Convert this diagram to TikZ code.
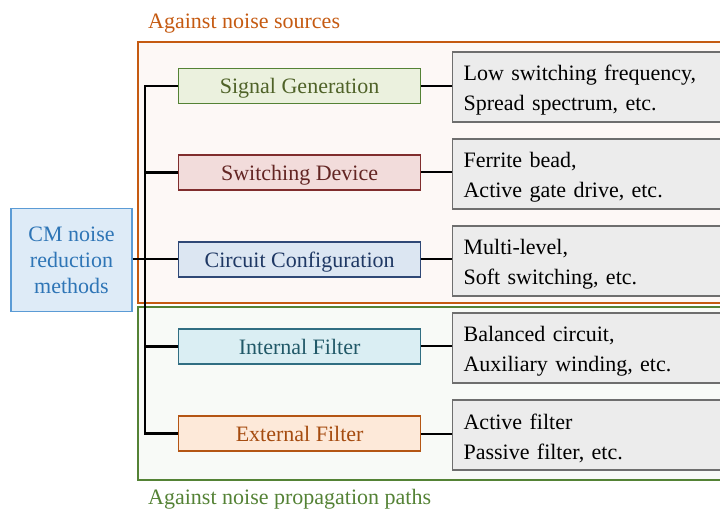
\documentclass[tikz,border=0pt]{standalone}
\usepackage{fontspec}
\setmainfont{Liberation Serif}
\definecolor{oframe}{RGB}{197,90,17}
\definecolor{ofill}{RGB}{253,248,246}
\definecolor{gframe}{RGB}{84,130,53}
\definecolor{gfill}{RGB}{248,250,247}
\definecolor{cmfill}{RGB}{222,235,247}
\definecolor{cmdraw}{RGB}{91,155,213}
\definecolor{cmtext}{RGB}{46,117,182}
\definecolor{sgfill}{RGB}{235,241,222}
\definecolor{sgdraw}{RGB}{84,130,53}
\definecolor{sgtext}{RGB}{79,98,40}
\definecolor{sdfill}{RGB}{242,220,219}
\definecolor{sddraw}{RGB}{128,45,45}
\definecolor{sdtext}{RGB}{99,37,35}
\definecolor{ccfill}{RGB}{220,230,242}
\definecolor{ccdraw}{RGB}{47,72,118}
\definecolor{cctext}{RGB}{31,56,100}
\definecolor{iffill}{RGB}{218,238,243}
\definecolor{ifdraw}{RGB}{49,110,130}
\definecolor{iftext}{RGB}{33,89,104}
\definecolor{effill}{RGB}{253,233,217}
\definecolor{efdraw}{RGB}{180,85,20}
\definecolor{eftext}{RGB}{165,75,15}
\definecolor{dfill}{RGB}{236,236,236}
\definecolor{ddraw}{RGB}{110,110,110}
\begin{document}
\begin{tikzpicture}[x=1pt,y=-1pt,
  font=\fontsize{22}{30}\selectfont,
  cat/.style={draw,line width=1.2pt,minimum width=242pt,minimum height=35pt,inner sep=0pt,text depth=0pt,anchor=west},
  det/.style={draw=ddraw,fill=dfill,line width=1.2pt,minimum width=268pt,minimum height=70pt,inner sep=0pt,anchor=west},
  dettext/.style={text width=246pt,align=left,inner sep=0pt,yshift=-3pt},
  trunk/.style={line width=2.5pt,black},
  conn/.style={line width=2pt,black}]
\useasboundingbox (0,0) rectangle (720,510);
\begin{scope}
\clip (0,0) rectangle (720,510);
\draw[oframe,fill=ofill,line width=1.5pt] (138,42) rectangle (724,303);
\draw[gframe,fill=gfill,line width=1.5pt] (138,307) rectangle (724,480);
\end{scope}
\node[text=oframe,anchor=west,inner sep=0pt] (lab1) at (148,23.5) {Against noise sources};
\node[text=gframe,anchor=west,inner sep=0pt] (lab2) at (148,499.5) {Against noise propagation paths};

\node[draw=cmdraw,fill=cmfill,text=cmtext,line width=1.2pt,minimum width=121pt,minimum height=103pt,inner sep=0pt,align=center,font=\fontsize{22}{26}\selectfont] (cm) at (71.5,260) {CM noise\\reduction\\methods};

\node[cat,draw=sgdraw,fill=sgfill,text=sgtext] (sg) at (178,86) {Signal Generation};
\node[cat,draw=sddraw,fill=sdfill,text=sdtext] (sd) at (178,172.5) {Switching Device};
\node[cat,draw=ccdraw,fill=ccfill,text=cctext] (cc) at (178,259.5) {Circuit Configuration};
\node[cat,draw=ifdraw,fill=iffill,text=iftext] (if) at (178,346.5) {Internal Filter};
\node[cat,draw=efdraw,fill=effill,text=eftext] (ef) at (178,433.5) {External Filter};

\node[det] (d1) at (452,87) {};
\node[det] (d2) at (452,174) {};
\node[det] (d3) at (452,261) {};
\node[det] (d4) at (452,348) {};
\node[det] (d5) at (452,435) {};
\node[dettext] (t1) at (d1.center) {Low switching frequency,\\Spread spectrum, etc.};
\node[dettext] (t2) at (d2.center) {Ferrite bead,\\Active gate drive, etc.};
\node[dettext] (t3) at (d3.center) {Multi-level,\\Soft switching, etc.};
\node[dettext] (t4) at (d4.center) {Balanced circuit,\\Auxiliary winding, etc.};
\node[dettext] (t5) at (d5.center) {Active filter\\Passive filter, etc.};

\coordinate (ttop) at (145,86);
\coordinate (tbot) at (145,433.5);
\draw[trunk] (sg.west) -- (ttop) -- (tbot) -- (ef.west);
\draw[trunk] (sd.west) -- (145,172.5);
\draw[trunk] (if.west) -- (145,346.5);
\draw[conn] (cm.east |- cc.west) -- (cc.west);

\draw[conn] (sg.east) -- (sg.east -| d1.west);
\draw[conn] (sd.east) -- (sd.east -| d2.west);
\draw[conn] (cc.east) -- (cc.east -| d3.west);
\draw[conn] (if.east) -- (if.east -| d4.west);
\draw[conn] (ef.east) -- (ef.east -| d5.west);
\end{tikzpicture}
\end{document}
